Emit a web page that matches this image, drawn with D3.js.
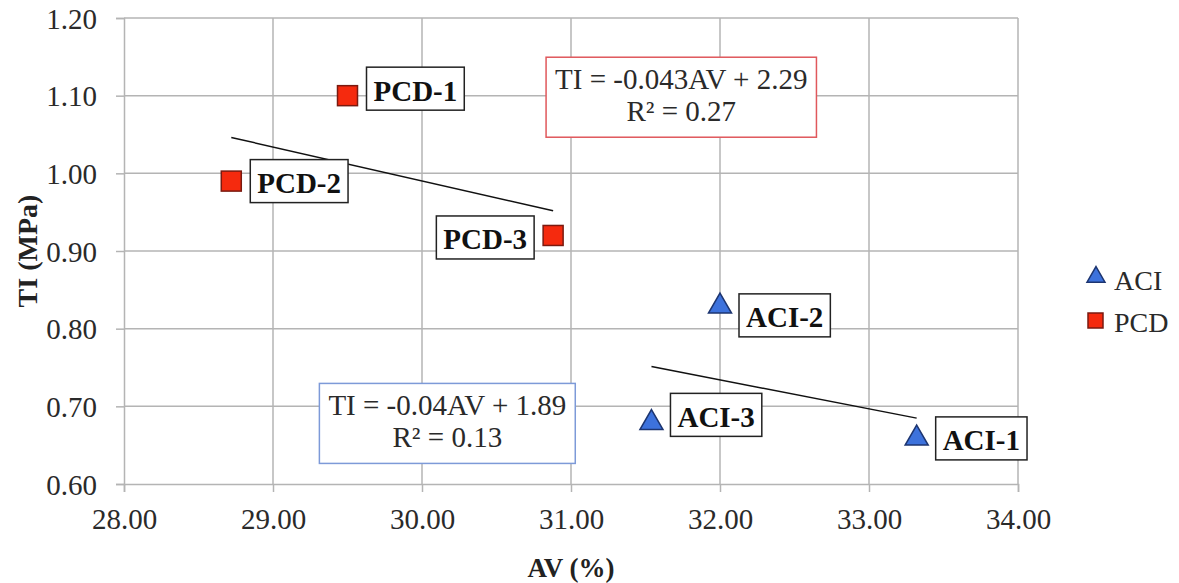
<!DOCTYPE html>
<html>
<head>
<meta charset="utf-8">
<script src="https://cdn.jsdelivr.net/npm/d3@7"></script>
<style>
  body { margin: 0; background: #fff; }
  text { font-family: "Liberation Serif", "Times New Roman", serif; }
</style>
</head>
<body>
<div id="chart"></div>
<script>
// data
const aciNames = ["ACI-1", "ACI-2", "ACI-3"];
const aciAV = [33.32, 32.0, 31.54];
const aciTI = [0.66, 0.83, 0.68];

const pcdNames = ["PCD-1", "PCD-2", "PCD-3"];
const pcdAV = [29.5, 28.72, 30.88];
const pcdTI = [1.10, 0.99, 0.92];

const xTicks = [28, 29, 30, 31, 32, 33, 34];
const yTicks = [0.6, 0.7, 0.8, 0.9, 1.0, 1.1, 1.2];

const pcdEquation = ["TI = -0.043AV + 2.29", "R² = 0.27"];
const aciEquation = ["TI = -0.04AV + 1.89", "R² = 0.13"];

// where the label boxes sit next to their marker (side, vertical nudge)
const labelPlace = {
  "PCD-1": ["right", -7], "PCD-2": ["right", 0], "PCD-3": ["left", 2],
  "ACI-1": ["right", 1], "ACI-2": ["right", 10], "ACI-3": ["right", -7]
};
// equation box centres in data units
const pcdEqAt = [31.74, 1.098];
const aciEqAt = [30.17, 0.678];

const W = 1179, H = 583;
const margin = { left: 124, right: 161, top: 18, bottom: 99 };

const svg = d3.select("#chart").append("svg")
  .attr("width", W).attr("height", H);

const x = d3.scaleLinear().domain([28, 34]).range([margin.left, W - margin.right]);
const y = d3.scaleLinear().domain([0.6, 1.2]).range([H - margin.bottom, margin.top]);

const gridColor = "#b4b4b4";

// gridlines
svg.append("g")
  .selectAll("line.v").data(xTicks.slice(1)).join("line")
  .attr("x1", d => x(d)).attr("x2", d => x(d))
  .attr("y1", y(1.2)).attr("y2", y(0.6))
  .attr("stroke", gridColor).attr("stroke-width", 1.5);
svg.append("g")
  .selectAll("line.h").data(yTicks.slice(1)).join("line")
  .attr("x1", x(28)).attr("x2", x(34))
  .attr("y1", d => y(d)).attr("y2", d => y(d))
  .attr("stroke", gridColor).attr("stroke-width", 1.5);

// axes
const xAxis = svg.append("g")
  .attr("transform", `translate(0,${y(0.6)})`)
  .call(d3.axisBottom(x).tickValues(xTicks).tickFormat(d3.format(".2f")).tickSize(8).tickPadding(9));
const yAxis = svg.append("g")
  .attr("transform", `translate(${x(28)},0)`)
  .call(d3.axisLeft(y).tickValues(yTicks).tickFormat(d3.format(".2f")).tickSize(8).tickPadding(19));

[xAxis, yAxis].forEach(g => {
  g.select(".domain").attr("stroke", gridColor).attr("stroke-width", 1.5);
  g.selectAll(".tick line").attr("stroke", gridColor).attr("stroke-width", 1.5);
  g.selectAll(".tick text")
    .attr("fill", "#2a2a2a")
    .style("font-family", "'Liberation Serif', serif")
    .style("font-size", "29px");
});
xAxis.selectAll(".tick text").attr("dy", "0.95em");
yAxis.selectAll(".tick text").attr("dy", "0.35em");

// axis titles
svg.append("text")
  .attr("x", (x(28) + x(34)) / 2).attr("y", 577)
  .attr("text-anchor", "middle")
  .attr("font-weight", "bold").attr("font-size", 27).attr("fill", "#222")
  .text("AV (%)");
svg.append("text")
  .attr("transform", `translate(37,${(y(0.6) + y(1.2)) / 2}) rotate(-90)`)
  .attr("text-anchor", "middle")
  .attr("font-weight", "bold").attr("font-size", 28).attr("fill", "#222")
  .text("TI (MPa)");

// least squares fit, drawn over the x range of the series
function fit(xs, ys) {
  const mx = d3.mean(xs), my = d3.mean(ys);
  const sxy = d3.sum(xs, (v, i) => (v - mx) * (ys[i] - my));
  const sxx = d3.sum(xs, v => (v - mx) * (v - mx));
  const b = sxy / sxx;
  return v => my + b * (v - mx);
}

function trend(xs, ys) {
  const f = fit(xs, ys);
  const [x0, x1] = d3.extent(xs);
  svg.append("line")
    .attr("x1", x(x0)).attr("y1", y(f(x0)))
    .attr("x2", x(x1)).attr("y2", y(f(x1)))
    .attr("stroke", "#111").attr("stroke-width", 1.5);
}
trend(pcdAV, pcdTI);
trend(aciAV, aciTI);

// equation boxes
function eqBox(lines, at, color) {
  const g = svg.append("g")
    .attr("transform", `translate(${x(at[0])},${y(at[1])})`);
  const rect = g.append("rect").attr("fill", "#fff").attr("stroke", color).attr("stroke-width", 1.5);
  const t = g.append("text").attr("text-anchor", "middle").attr("font-size", 29).attr("fill", "#2a2a2a");
  t.selectAll("tspan").data(lines).join("tspan")
    .attr("x", 0).attr("y", (d, i) => i === 0 ? -8 : 24)
    .text(d => d);
  const bb = t.node().getBBox();
  rect.attr("x", bb.x - 9).attr("y", -40).attr("width", bb.width + 18).attr("height", 80);
}
eqBox(pcdEquation, pcdEqAt, "#e0585c");
eqBox(aciEquation, aciEqAt, "#7d9ad8");

// markers
const tri = d3.symbol().type(d3.symbolTriangle).size(230);
const triSmall = d3.symbol().type(d3.symbolTriangle).size(140);
const aci = aciNames.map((n, i) => ({ name: n, av: aciAV[i], ti: aciTI[i] }));
const pcd = pcdNames.map((n, i) => ({ name: n, av: pcdAV[i], ti: pcdTI[i] }));

svg.append("g").selectAll("path").data(aci).join("path")
  .attr("d", tri)
  .attr("transform", d => `translate(${x(d.av)},${y(d.ti) + 1})`)
  .attr("fill", "#3d72dc").attr("stroke", "#1d3570").attr("stroke-width", 1.5);

svg.append("g").selectAll("rect").data(pcd).join("rect")
  .attr("x", d => x(d.av) - 10).attr("y", d => y(d.ti) - 10)
  .attr("width", 20).attr("height", 20)
  .attr("fill", "#f52a0e").attr("stroke", "#7a1a10").attr("stroke-width", 1.5);

// point labels
aci.concat(pcd).forEach(d => {
  const [side, dy] = labelPlace[d.name];
  const g = svg.append("g");
  const t = g.append("text")
    .attr("font-weight", "bold").attr("font-size", 29).attr("fill", "#111")
    .attr("dominant-baseline", "central")
    .text(d.name);
  const bb = t.node().getBBox();
  const bw = bb.width + 14, bh = 43;
  const cx = x(d.av), cy = y(d.ti) + dy;
  const left = side === "right" ? cx + 19 : cx - 19 - bw;
  t.attr("x", left + 7).attr("y", cy + 2);
  g.insert("rect", "text")
    .attr("x", left).attr("y", cy - bh / 2)
    .attr("width", bw).attr("height", bh)
    .attr("fill", "#fff").attr("stroke", "#222").attr("stroke-width", 1.5);
});

// legend
const leg = svg.append("g").attr("transform", "translate(1096,0)");
leg.append("path").attr("d", triSmall)
  .attr("transform", "translate(0,277)")
  .attr("fill", "#3d72dc").attr("stroke", "#1d3570").attr("stroke-width", 1.5);
leg.append("rect").attr("x", -8).attr("y", 313).attr("width", 15).attr("height", 15)
  .attr("fill", "#f52a0e").attr("stroke", "#7a1a10").attr("stroke-width", 1.5);
leg.selectAll("text.l").data(["ACI", "PCD"]).join("text")
  .attr("x", 18).attr("y", (d, i) => 290 + i * 42)
  .attr("font-size", 28).attr("fill", "#2a2a2a")
  .text(d => d);
</script>
</body>
</html>
